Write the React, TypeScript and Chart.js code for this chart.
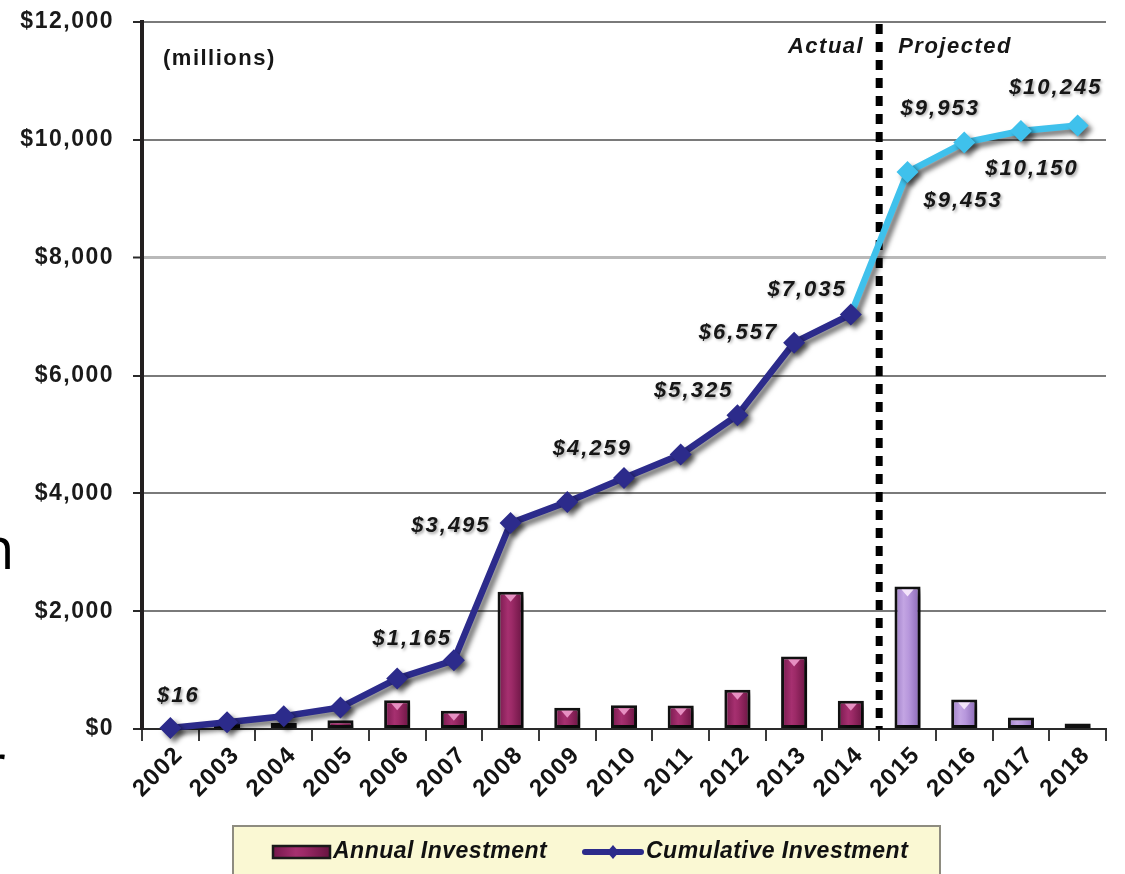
import React, { useEffect, useRef } from "react";
import { Chart, registerables } from "chart.js";

Chart.register(...registerables);

// ---------- data ----------
const YEARS = ["2002", "2003", "2004", "2005", "2006", "2007", "2008", "2009", "2010", "2011", "2012", "2013", "2014", "2015", "2016", "2017", "2018"];
const ANNUAL_INVESTMENT = [16, 100, 100, 150, 490, 309, 2330, 360, 404, 400, 666, 1232, 478, 2418, 500, 197, 95];
const CUMULATIVE_INVESTMENT = [16, 116, 216, 366, 856, 1165, 3495, 3855, 4259, 4659, 5325, 6557, 7035, 9453, 9953, 10150, 10245];
const LABELED_YEARS = ["2002", "2007", "2008", "2010", "2012", "2013", "2014", "2015", "2016", "2017", "2018"];
const FIRST_PROJECTED_YEAR = "2015";
const Y_TICKS = [0, 2000, 4000, 6000, 8000, 10000, 12000];
const SERIES_NAMES = ["Annual Investment", "Cumulative Investment"];
const PERIOD_LABELS = ["Actual", "Projected"];
const UNIT_NOTE = "(millions)";

// ---------- styling ----------
const FONT = "'Liberation Sans', Arial, Helvetica, sans-serif";
const NAVY = "#2c2b8b";
const SKY = "#3fc1ec";
// label placement relative to its point: [dx, dy, align]
const LABEL_PLACE: Record<string, [number, number, CanvasTextAlign]> = {
  "2002": [8, -32, "center"],
  "2007": [-2, -21, "right"],
  "2008": [-20, 3, "right"],
  "2010": [8, -29, "right"],
  "2012": [-4, -24, "right"],
  "2013": [-16, -10, "right"],
  "2014": [-4, -25, "right"],
  "2015": [16, 29, "left"],
  "2016": [-24, -34, "center"],
  "2017": [11, 38, "center"],
  "2018": [-22, -37, "center"],
};

const fmt = (v: number) => "$" + v.toLocaleString("en-US");

export default function App() {
  const ref = useRef<HTMLCanvasElement>(null);

  useEffect(() => {
    const canvas = ref.current;
    if (!canvas) return;
    const projIdx = YEARS.indexOf(FIRST_PROJECTED_YEAR);
    const isProj = (i: number) => i >= projIdx;
    const BAR_PCT = 0.46;

    const makeBarGradient = (ctx: CanvasRenderingContext2D, x0: number, x1: number, proj: boolean) => {
      const g = ctx.createLinearGradient(x0, 0, x1, 0);
      if (proj) {
        g.addColorStop(0, "#9c7cc6");
        g.addColorStop(0.35, "#c3a5e3");
        g.addColorStop(0.55, "#b797dc");
        g.addColorStop(1, "#8665b2");
      } else {
        g.addColorStop(0, "#74184b");
        g.addColorStop(0.4, "#a63070");
        g.addColorStop(0.55, "#9c2a67");
        g.addColorStop(1, "#661340");
      }
      return g;
    };

    const shadowPlugin = {
      id: "dsShadow",
      beforeDatasetDraw(chart: any) {
        const ctx = chart.ctx;
        ctx.save();
        ctx.shadowColor = "rgba(0,0,0,0.55)";
        ctx.shadowBlur = 5;
        ctx.shadowOffsetX = 4;
        ctx.shadowOffsetY = 4;
      },
      afterDatasetDraw(chart: any) {
        chart.ctx.restore();
      },
    };

    const decorPlugin = {
      id: "decor",
      beforeUpdate(chart: any) {
        (chart.ctx as any).letterSpacing = "1.5px";
      },
      beforeDraw(chart: any) {
        (chart.ctx as any).letterSpacing = "1.5px";
      },
      beforeDatasetsDraw(chart: any) {
        const ctx = chart.ctx as CanvasRenderingContext2D;
        const xs = chart.scales.x;
        const area = chart.chartArea;
        const xDiv = (xs.getPixelForValue(projIdx - 1) + xs.getPixelForValue(projIdx)) / 2;
        ctx.save();
        ctx.strokeStyle = "#000";
        ctx.lineWidth = 7;
        ctx.setLineDash([10, 8]);
        ctx.beginPath();
        ctx.moveTo(xDiv, area.top + 2);
        ctx.lineTo(xDiv, area.bottom);
        ctx.stroke();
        ctx.restore();

        ctx.save();
        (ctx as any).letterSpacing = "1.5px";
        ctx.fillStyle = "#161616";
        ctx.textBaseline = "middle";
        ctx.font = `italic bold 22px ${FONT}`;
        ctx.textAlign = "right";
        ctx.fillText(PERIOD_LABELS[0], xDiv - 15, area.top + 25);
        ctx.textAlign = "left";
        ctx.fillText(PERIOD_LABELS[1], xDiv + 19, area.top + 25);
        ctx.font = `bold 22px ${FONT}`;
        ctx.fillText(UNIT_NOTE, area.left + 21, area.top + 37);
        ctx.restore();
      },
      afterDatasetsDraw(chart: any) {
        const ctx = chart.ctx as CanvasRenderingContext2D;
        // bar top highlights
        const barMeta = chart.getDatasetMeta(1);
        ctx.save();
        barMeta.data.forEach((el: any, i: number) => {
          const h = el.base - el.y;
          if (h < 14) return;
          ctx.fillStyle = isProj(i) ? "#f3e4fa" : "#e690c2";
          ctx.beginPath();
          ctx.moveTo(el.x - 6, el.y + 3);
          ctx.lineTo(el.x + 6, el.y + 3);
          ctx.lineTo(el.x, el.y + 10);
          ctx.closePath();
          ctx.fill();
        });
        ctx.restore();

        // value labels
        const lineMeta = chart.getDatasetMeta(0);
        ctx.save();
        (ctx as any).letterSpacing = "2px";
        ctx.font = `italic bold 22px ${FONT}`;
        ctx.fillStyle = "#161616";
        ctx.textBaseline = "middle";
        ctx.shadowColor = "rgba(0,0,0,0.35)";
        ctx.shadowBlur = 3;
        ctx.shadowOffsetX = 1.5;
        ctx.shadowOffsetY = 1.5;
        LABELED_YEARS.forEach((yr) => {
          const i = YEARS.indexOf(yr);
          const el = lineMeta.data[i];
          const p = LABEL_PLACE[yr] || [0, -25, "center"];
          ctx.textAlign = p[2];
          ctx.fillText(fmt(CUMULATIVE_INVESTMENT[i]), el.x + p[0], el.y + p[1]);
        });
        ctx.restore();
      },
      afterDraw(chart: any) {
        const ctx = chart.ctx as CanvasRenderingContext2D;
        ctx.save();
        // legend box
        const bx = 233, by = 826, bw = 707, bh = 70;
        ctx.fillStyle = "#faf8d3";
        ctx.fillRect(bx, by, bw, bh);
        ctx.strokeStyle = "#8e8c80";
        ctx.lineWidth = 2;
        ctx.strokeRect(bx, by, bw, bh);

        const cy = 852;
        // bar swatch
        ctx.fillStyle = makeBarGradient(ctx, 273, 330, false);
        ctx.fillRect(273, cy - 6, 57, 12);
        ctx.strokeStyle = "#1a1a1a";
        ctx.lineWidth = 2.5;
        ctx.strokeRect(273, cy - 6, 57, 12);
        (ctx as any).letterSpacing = "0.5px";
        ctx.font = `italic bold 23px ${FONT}`;
        ctx.fillStyle = "#111";
        ctx.textAlign = "left";
        ctx.textBaseline = "middle";
        ctx.fillText(SERIES_NAMES[0], 333, cy);

        // line swatch
        ctx.strokeStyle = NAVY;
        ctx.lineWidth = 6;
        ctx.lineCap = "round";
        ctx.beginPath();
        ctx.moveTo(585, cy);
        ctx.lineTo(641, cy);
        ctx.stroke();
        ctx.fillStyle = NAVY;
        ctx.beginPath();
        ctx.moveTo(613 - 6, cy);
        ctx.lineTo(613, cy - 7);
        ctx.lineTo(613 + 6, cy);
        ctx.lineTo(613, cy + 7);
        ctx.closePath();
        ctx.fill();
        ctx.fillStyle = "#111";
        ctx.fillText(SERIES_NAMES[1], 646, cy);
        ctx.restore();
      },
    };

    const chart = new Chart(canvas, {
      type: "bar",
      data: {
        labels: YEARS,
        datasets: [
          {
            type: "line",
            label: SERIES_NAMES[1],
            data: CUMULATIVE_INVESTMENT,
            order: 0,
            borderColor: NAVY,
            borderWidth: 6.5,
            pointStyle: "rectRot",
            pointRadius: 11,
            pointBackgroundColor: YEARS.map((_, i) => (isProj(i) ? SKY : NAVY)),
            pointBorderColor: YEARS.map((_, i) => (isProj(i) ? SKY : NAVY)),
            pointBorderWidth: 0,
            tension: 0,
            clip: false,
            segment: {
              borderColor: (c: any) => (isProj(c.p1DataIndex) ? SKY : NAVY),
            },
          } as any,
          {
            type: "bar",
            label: SERIES_NAMES[0],
            data: ANNUAL_INVESTMENT,
            order: 1,
            backgroundColor: (c: any) => {
              const ch = c.chart;
              const xs = ch.scales && ch.scales.x;
              const proj = isProj(c.dataIndex);
              if (!xs || !ch.chartArea) return proj ? "#b797dc" : "#9c2766";
              const cx = xs.getPixelForValue(c.dataIndex);
              const half = (xs.width / YEARS.length) * BAR_PCT / 2;
              return makeBarGradient(ch.ctx, cx - half, cx + half, proj);
            },
            borderColor: "#111",
            borderWidth: 3,
            borderSkipped: false,
            barPercentage: BAR_PCT,
            categoryPercentage: 1,
          } as any,
        ],
      },
      options: {
        responsive: true,
        maintainAspectRatio: false,
        animation: false,
        layout: { padding: { top: 22, right: 19, left: 0, bottom: 0 } },
        plugins: {
          legend: { display: false },
          tooltip: { enabled: false },
        },
        scales: {
          x: {
            offset: true,
            grid: {
              offset: true,
              drawOnChartArea: false,
              drawTicks: true,
              tickLength: 12,
              color: "#3a3a3a",
              lineWidth: 2,
            },
            border: { display: true, color: "#2a2a2a", width: 2 },
            ticks: {
              font: { family: FONT, size: 24, weight: "bold" },
              color: "#141414",
              maxRotation: 45,
              minRotation: 45,
              autoSkip: false,
              padding: 0,
              labelOffset: 9,
            },
            afterFit: (s: any) => {
              s.height = 145;
            },
          },
          y: {
            min: 0,
            max: 12000,
            afterBuildTicks: (s: any) => {
              s.ticks = Y_TICKS.map((v) => ({ value: v }));
            },
            grid: {
              color: (c: any) => (c.tick && c.tick.value === 8000 ? "#b9b9b9" : "#7a7a7a"),
              lineWidth: (c: any) => (c.tick && c.tick.value === 8000 ? 3 : 2),
              tickLength: 9,
              tickColor: "#2a2a2a",
              tickWidth: 2,
            },
            border: { display: true, color: "#231f20", width: 4 },
            ticks: {
              font: { family: FONT, size: 23, weight: "bold" },
              color: "#1a1a1a",
              padding: 19,
              callback: (v: any) => fmt(Number(v)),
            },
            afterFit: (s: any) => {
              s.width = 142;
              s.paddingTop = 0;
              s.paddingBottom = 0;
            },
          },
        },
      },
      plugins: [shadowPlugin, decorPlugin],
    } as any);

    return () => chart.destroy();
  }, []);

  return (
    <div
      style={{
        position: "fixed",
        left: 0,
        top: 0,
        width: 1125,
        height: 874,
        background: "#fff",
        overflow: "hidden",
      }}
    >
      <div style={{ position: "absolute", left: 0, top: 0, width: 1125, height: 874 }}>
        <canvas ref={ref} />
      </div>
      <span
        style={{
          position: "absolute",
          left: -21,
          top: 518,
          fontFamily: "'Open Sans', sans-serif",
          fontSize: 58,
          lineHeight: 1,
          color: "#000",
        }}
      >
        n
      </span>
      <span
        style={{
          position: "absolute",
          left: -18,
          top: 735,
          fontFamily: "'Open Sans', sans-serif",
          fontSize: 58,
          lineHeight: 1,
          color: "#000",
        }}
      >
        r
      </span>
    </div>
  );
}
